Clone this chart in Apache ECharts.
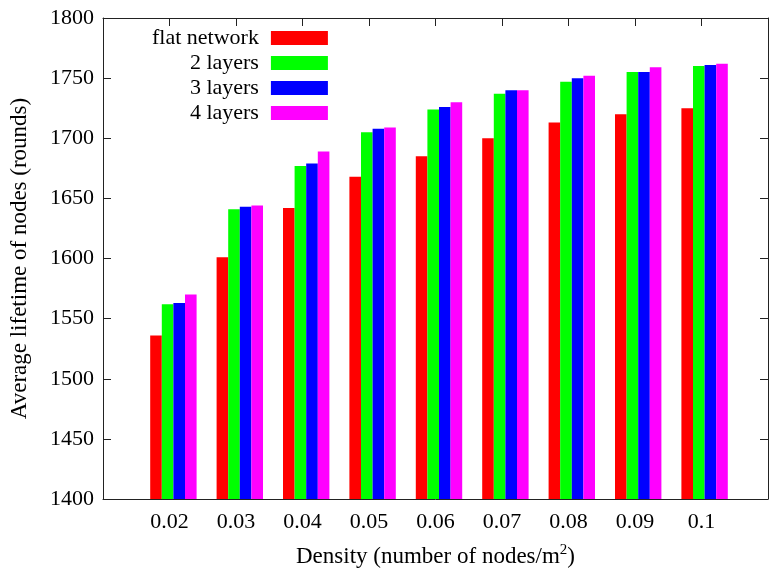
<!DOCTYPE html>
<html>
<head>
<meta charset="utf-8">
<script src="https://cdn.jsdelivr.net/npm/echarts@6/dist/echarts.min.js"></script>
<style>
  html, body { margin: 0; padding: 0; background: #fff; }
  #chart { width: 771px; height: 574px; }
</style>
</head>
<body>
<div id="chart"></div>
<script>
// Average node lifetime versus node density, per network hierarchy depth
const densities = ['0.02', '0.03', '0.04', '0.05', '0.06', '0.07', '0.08', '0.09', '0.1'];
const flatNetwork = [1536, 1601, 1642, 1668, 1685, 1700, 1713, 1720, 1725];
const twoLayers   = [1562, 1641, 1677, 1705, 1724, 1737, 1747, 1755, 1760];
const threeLayers = [1563, 1643, 1679, 1708, 1726, 1740, 1750, 1755, 1761];
const fourLayers  = [1570, 1644, 1689, 1709, 1730, 1740, 1752, 1759, 1762];
const yTicks = [1400, 1450, 1500, 1550, 1600, 1650, 1700, 1750, 1800];

const FONT = 'Liberation Serif';
const FONT_SIZE = 22;
const NAME_SIZE = 23;
const FRAME = '#222';

// Axis runs one empty slot beyond the first and last density
const axisCats = [''].concat(densities, ['']);
const pad = arr => [null].concat(arr, [null]);

const seriesDefs = [
  { name: 'flat network', data: flatNetwork, color: '#ff0000' },
  { name: '2 layers', data: twoLayers, color: '#00ff00' },
  { name: '3 layers', data: threeLayers, color: '#0000ff' },
  { name: '4 layers', data: fourLayers, color: '#ff00ff' }
];

const chart = echarts.init(document.getElementById('chart'));
const yMin = yTicks[0], yMax = yTicks[yTicks.length - 1], yStep = yTicks[1] - yTicks[0];

chart.setOption({
  backgroundColor: '#fff',
  animation: false,
  textStyle: { fontFamily: FONT },
  grid: [
    { left: 102, top: 18, width: 668, height: 481, show: false },
    { left: 107, top: 18, width: 668, height: 481, show: false }
  ],
  legend: {
    orient: 'vertical',
    align: 'right',
    left: 147,
    top: 22,
    itemWidth: 57,
    itemHeight: 14,
    itemGap: 3,
    icon: 'rect',
    textStyle: { fontFamily: FONT, fontSize: FONT_SIZE, color: '#000', padding: [0, 7, 0, 0] },
    data: seriesDefs.map(s => s.name)
  },
  xAxis: [
    {
      gridIndex: 0, type: 'category', data: axisCats, boundaryGap: false,
      position: 'bottom',
      name: 'Density (number of nodes/m{sup|2})',
      nameLocation: 'middle', nameGap: 44,
      nameTextStyle: {
        fontFamily: FONT, fontSize: NAME_SIZE, color: '#000',
        rich: { sup: { fontFamily: FONT, fontSize: 15, color: '#000', verticalAlign: 'bottom', padding: [0, 0, 12, 0] } }
      },
      axisLine: { show: true, lineStyle: { color: FRAME, width: 1 } },
      axisTick: { show: true, inside: true, length: 8, lineStyle: { color: FRAME } },
      axisLabel: { fontFamily: FONT, fontSize: FONT_SIZE, color: '#000', margin: 12, interval: 0 },
      splitLine: { show: false }
    },
    {
      gridIndex: 0, type: 'category', data: axisCats, boundaryGap: false,
      position: 'top',
      axisLine: { show: true, lineStyle: { color: FRAME, width: 1 } },
      axisTick: { show: true, inside: true, length: 8, interval: 0, lineStyle: { color: FRAME } },
      axisLabel: { show: false },
      splitLine: { show: false }
    },
    {
      gridIndex: 1, type: 'category', data: axisCats, boundaryGap: false,
      show: false
    }
  ],
  yAxis: [
    {
      gridIndex: 0, type: 'value', min: yMin, max: yMax, interval: yStep,
      position: 'left',
      name: 'Average lifetime of nodes (rounds)',
      nameLocation: 'middle', nameGap: 72,
      nameTextStyle: { fontFamily: FONT, fontSize: NAME_SIZE, color: '#000' },
      axisLine: { show: true, lineStyle: { color: FRAME, width: 1 } },
      axisTick: { show: true, inside: true, length: 8, lineStyle: { color: FRAME } },
      axisLabel: { fontFamily: FONT, fontSize: FONT_SIZE, color: '#000', margin: 9, formatter: v => String(v) },
      splitLine: { show: false }
    },
    {
      gridIndex: 0, type: 'value', min: yMin, max: yMax, interval: yStep,
      position: 'right',
      axisLine: { show: true, lineStyle: { color: FRAME, width: 1 } },
      axisTick: { show: true, inside: true, length: 8, lineStyle: { color: FRAME } },
      axisLabel: { show: false },
      splitLine: { show: false }
    },
    {
      gridIndex: 1, type: 'value', min: yMin, max: yMax, interval: yStep,
      show: false
    }
  ],
  series: seriesDefs.map(s => ({
    name: s.name,
    type: 'bar',
    xAxisIndex: 2,
    yAxisIndex: 2,
    data: pad(s.data),
    barWidth: 11.6,
    barGap: '0%',
    itemStyle: { color: s.color },
    emphasis: { disabled: true }
  }))
});
</script>
</body>
</html>
